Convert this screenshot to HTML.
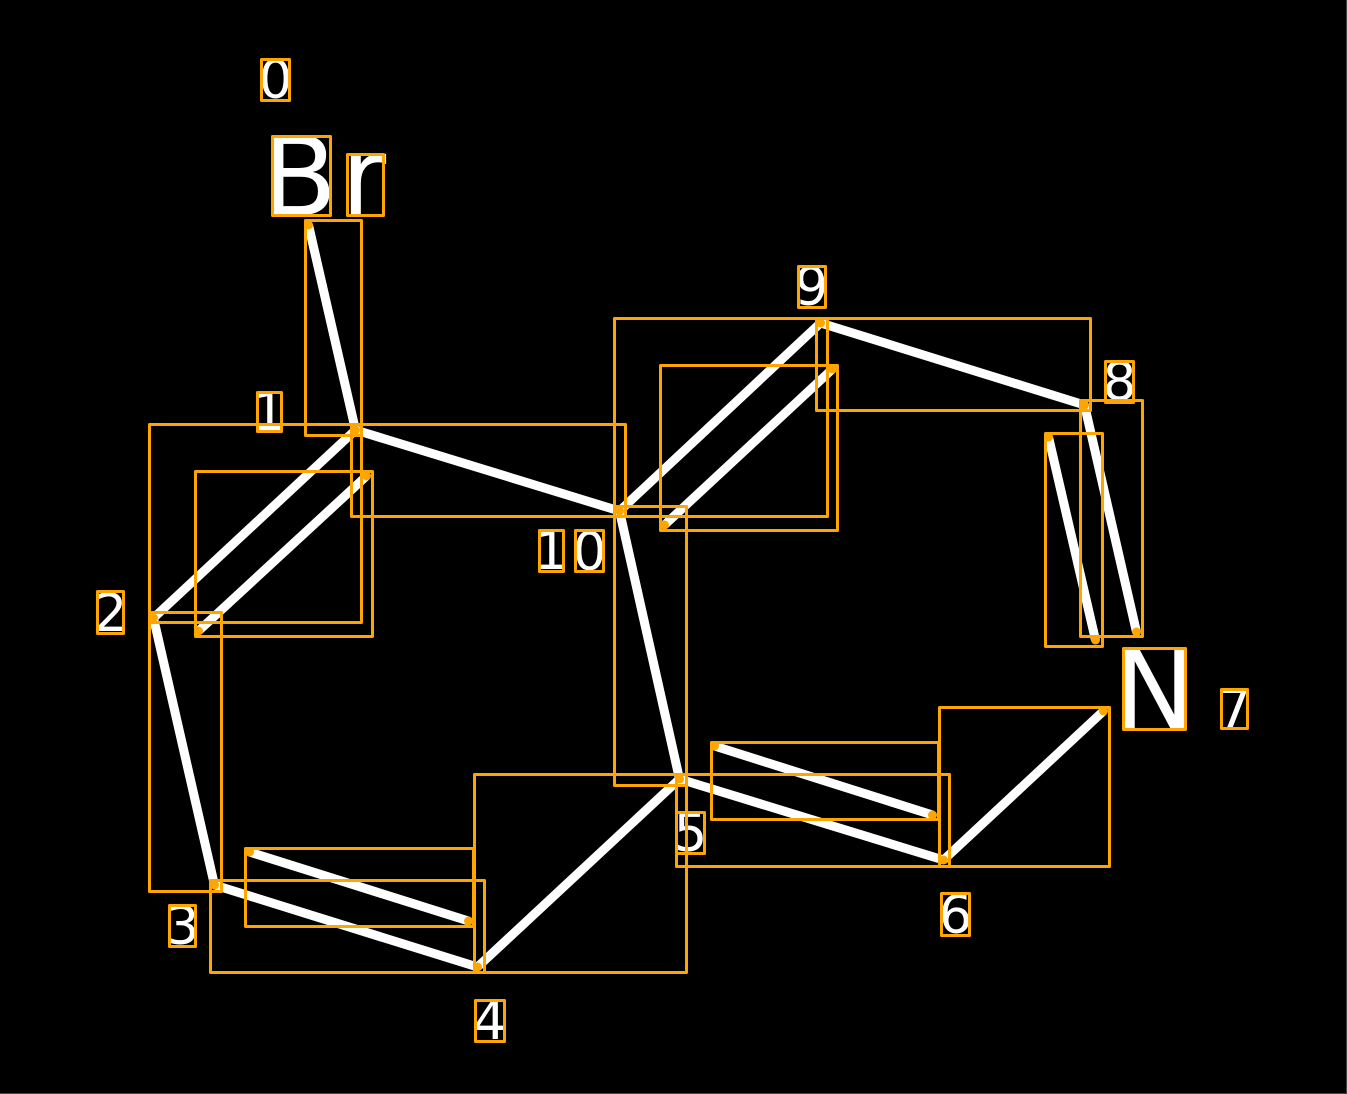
<!DOCTYPE html>
<html>
<head>
<meta charset="utf-8">
<style>
html,body{margin:0;padding:0;background:#000;width:1347px;height:1094px;overflow:hidden}
svg{display:block}
text{font-family:"DejaVu Sans",sans-serif;fill:#fff}
</style>
</head>
<body>
<svg width="1347" height="1094" viewBox="0 0 1347 1094" xmlns="http://www.w3.org/2000/svg">
<rect width="1347" height="1094" fill="#000"/>
<g stroke="#fff" stroke-width="9" fill="none">
<line x1="308.5" y1="225" x2="355.5" y2="430"/>
<line x1="355.5" y1="430" x2="619.5" y2="511"/>
<line x1="355.5" y1="430" x2="153.5" y2="618"/>
<line x1="366.5" y1="476" x2="198.5" y2="631"/>
<line x1="153.5" y1="618" x2="214.5" y2="885"/>
<line x1="214.5" y1="885" x2="477.5" y2="967"/>
<line x1="249.5" y1="852" x2="468.5" y2="921"/>
<line x1="477.5" y1="967" x2="679.5" y2="779"/>
<line x1="619.5" y1="511" x2="679.5" y2="779"/>
<line x1="679.5" y1="779" x2="943.5" y2="860"/>
<line x1="714.5" y1="746" x2="932.5" y2="815"/>
<line x1="943.5" y1="860" x2="1103.5" y2="711"/>
<line x1="619.5" y1="511" x2="820.5" y2="323"/>
<line x1="664.5" y1="525" x2="832.5" y2="369"/>
<line x1="820.5" y1="323" x2="1084.5" y2="405"/>
<line x1="1084.5" y1="405" x2="1136.5" y2="632"/>
<line x1="1048.5" y1="437" x2="1095.5" y2="640"/>
</g>
<g font-size="53" text-anchor="middle">
<text x="275.5" y="98">0</text>
<text x="269" y="430">1</text>
<text x="110.5" y="631">2</text>
<text x="182.5" y="944">3</text>
<text x="489.5" y="1039">4</text>
<text x="690.5" y="851">5</text>
<text x="955.5" y="933">6</text>
<text x="1234.5" y="727">7</text>
<text x="1119.5" y="400">8</text>
<text x="811.5" y="305">9</text>
<text x="551" y="569">1</text>
<text x="589.5" y="570">0</text>
</g>
<g font-size="110" text-anchor="middle">
<text x="299.5" y="215">B</text>
<text x="363.5" y="215">r</text>
<text x="1154.5" y="728">N</text>
</g>
<g stroke="#ffa500" stroke-width="3" fill="none" stroke-linejoin="round">
<rect x="305.5" y="220.5" width="56" height="215"/>
<rect x="351.5" y="424.5" width="274" height="92"/>
<rect x="149.5" y="424.5" width="212" height="198"/>
<rect x="195.5" y="471.5" width="177" height="165"/>
<rect x="149.5" y="612.5" width="72" height="279"/>
<rect x="210.5" y="880.5" width="274" height="92"/>
<rect x="245.5" y="848.5" width="228" height="78"/>
<rect x="474.5" y="774.5" width="212" height="198"/>
<rect x="614.5" y="506.5" width="72" height="279"/>
<rect x="676.5" y="774.5" width="273" height="92"/>
<rect x="711.5" y="742.5" width="227" height="77"/>
<rect x="939.5" y="707.5" width="170" height="159"/>
<rect x="614.5" y="318.5" width="213" height="198"/>
<rect x="660.5" y="365.5" width="177" height="165"/>
<rect x="816.5" y="318.5" width="274" height="92"/>
<rect x="1080.5" y="400.5" width="62" height="236"/>
<rect x="1045.5" y="433.5" width="57" height="213"/>
<rect x="261.5" y="59.5" width="28" height="41"/>
<rect x="272.5" y="136.5" width="58" height="79"/>
<rect x="347.5" y="154.5" width="36" height="61"/>
<rect x="257.5" y="392.5" width="24" height="39"/>
<rect x="97.5" y="591.5" width="26" height="42"/>
<rect x="169.5" y="905.5" width="26" height="41"/>
<rect x="475.5" y="1000.5" width="29" height="41"/>
<rect x="676.5" y="812.5" width="28" height="41"/>
<rect x="941.5" y="893.5" width="28" height="42"/>
<rect x="1221.5" y="689.5" width="26" height="39"/>
<rect x="1105.5" y="361.5" width="28" height="41"/>
<rect x="798.5" y="266.5" width="27" height="41"/>
<rect x="539.5" y="530.5" width="24" height="41"/>
<rect x="575.5" y="530.5" width="28" height="41"/>
<rect x="1123.5" y="648.5" width="62" height="81"/>
</g>
<g fill="#ffa500">
<circle cx="308.5" cy="225" r="4.5"/>
<circle cx="355.5" cy="430" r="4.5"/>
<circle cx="619.5" cy="511" r="4.5"/>
<circle cx="153.5" cy="618" r="4.5"/>
<circle cx="366.5" cy="476" r="4.5"/>
<circle cx="198.5" cy="631" r="4.5"/>
<circle cx="214.5" cy="885" r="4.5"/>
<circle cx="477.5" cy="967" r="4.5"/>
<circle cx="249.5" cy="852" r="4.5"/>
<circle cx="468.5" cy="921" r="4.5"/>
<circle cx="679.5" cy="779" r="4.5"/>
<circle cx="943.5" cy="860" r="4.5"/>
<circle cx="714.5" cy="746" r="4.5"/>
<circle cx="932.5" cy="815" r="4.5"/>
<circle cx="1103.5" cy="711" r="4.5"/>
<circle cx="820.5" cy="323" r="4.5"/>
<circle cx="664.5" cy="525" r="4.5"/>
<circle cx="832.5" cy="369" r="4.5"/>
<circle cx="1084.5" cy="405" r="4.5"/>
<circle cx="1136.5" cy="632" r="4.5"/>
<circle cx="1048.5" cy="437" r="4.5"/>
<circle cx="1095.5" cy="640" r="4.5"/>
</g>
<rect x="1346" y="0" width="1" height="1094" fill="#444"/>
<rect x="0" y="1093" width="1347" height="1" fill="#444"/>
</svg>
</body>
</html>
